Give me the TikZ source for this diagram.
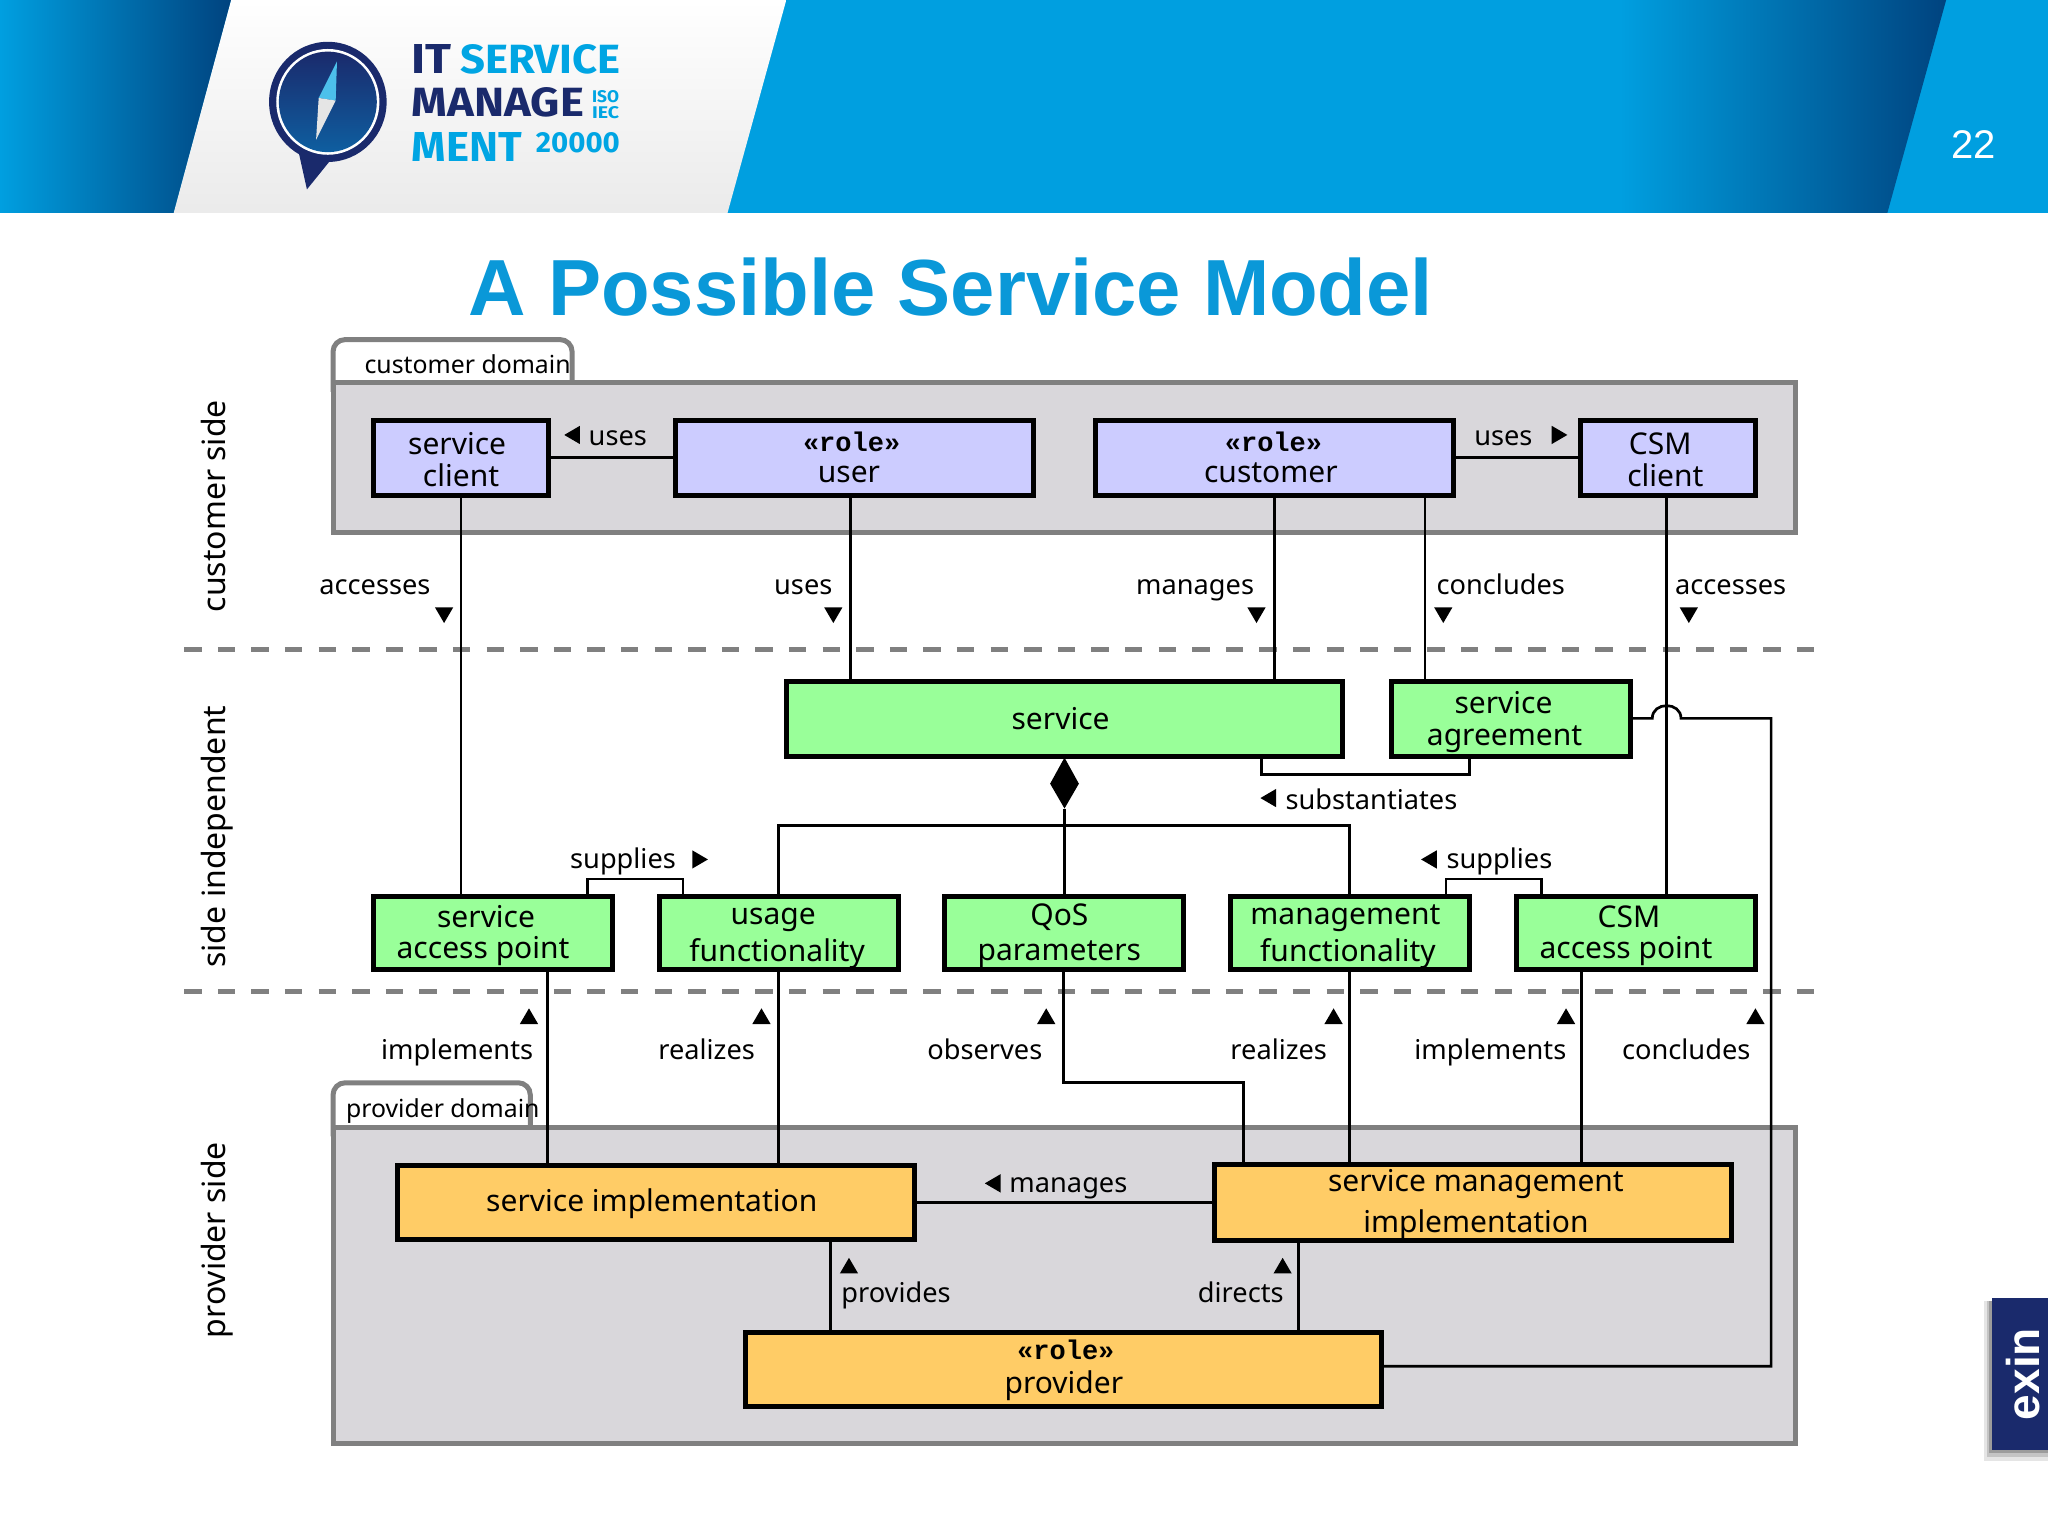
\documentclass[tikz,border=0pt]{standalone}
\usepackage{fontspec}
\usepackage{graphicx}
\setmainfont{Noto Sans}
\newfontfamily\arialf{Liberation Sans}
\newfontfamily\rolef{Liberation Mono}
\newfontfamily\logof{Fira Sans}
\definecolor{hdrblue}{HTML}{009FE0}
\definecolor{hdrdark}{HTML}{00437F}
\definecolor{titleblue}{HTML}{0A98D8}
\definecolor{domgrey}{HTML}{D9D7DB}
\definecolor{edgegrey}{HTML}{808080}
\definecolor{roleblue}{HTML}{CCCCFF}
\definecolor{sidegreen}{HTML}{99FF99}
\definecolor{provorange}{HTML}{FFCC66}
\definecolor{navy}{HTML}{1A2A6C}
\definecolor{logoblue}{HTML}{00A5E3}
\newcommand\bodyf{\fontsize{15}{15.7}\selectfont}
\newcommand\sft[1]{\hspace*{#1pt}}
\newcommand\stra{\rule[-1.6pt]{0pt}{15.7pt}}
\newcommand\strb{\rule[-2.5pt]{0pt}{15.7pt}}
\newcommand\strc{\rule[-3.2pt]{0pt}{15.7pt}}
\newcommand\strd{\rule[-2.2pt]{0pt}{15.7pt}}
\newcommand\stre{\rule[-4.5pt]{0pt}{15.7pt}}
\newcommand\rolet{{\rolef\bfseries\fontsize{13.5}{14}\selectfont «role»}}
\tikzset{
  x=0.65306pt,y=-0.65306pt,
  lbl/.style={inner sep=0pt,outer sep=0pt,font=\fontsize{13.6}{15}\selectfont,text=black,text height=10pt,text depth=3pt,yshift=-1pt},
  domlbl/.style={lbl,font=\fontsize{12.4}{14}\selectfont,text height=9pt,text depth=3pt,yshift=-1pt},
  sidelbl/.style={lbl,rotate=90,font=\fontsize{16}{18}\selectfont,text height=12pt,text depth=3.5pt,yshift=0.4pt},
  diag/.style={draw=black,line width=2.5pt,inner sep=0pt,outer sep=0pt,align=center,font=\bodyf,text=black},
  bluebox/.style={diag,fill=roleblue},
  greenbox/.style={diag,fill=sidegreen},
  orangebox/.style={diag,fill=provorange},
  dombox/.style={draw=edgegrey,fill=domgrey,line width=2.5pt,inner sep=0pt,outer sep=0pt},
  conn/.style={draw=black,line width=1.35pt},
  sepline/.style={draw=edgegrey,line width=2.35pt,dash pattern=on 8.7pt off 8.1pt},
  tabline/.style={draw=edgegrey,fill=white,line width=2.5pt,rounded corners=6pt},
}
% a rectangular node given by its corners: style, name, x1, y1, x2, y2, text
\newcommand\rectnode[7]{\node[#1,minimum width={(#5-#3)*0.65306pt},minimum height={(#6-#4)*0.65306pt}] (#2) at ({(#3+#5)/2},{(#4+#6)/2}) {#7};}
\newcommand\arrD[2]{\fill[black] ({#1-7},{#2-6}) -- ({#1+7},{#2-6}) -- (#1,{#2+6}) -- cycle;}
\newcommand\arrU[2]{\fill[black] ({#1-7},{#2+6}) -- ({#1+7},{#2+6}) -- (#1,{#2-6}) -- cycle;}
\newcommand\arrL[2]{\fill[black] ({#1+6},{#2-7}) -- ({#1+6},{#2+7}) -- ({#1-6},#2) -- cycle;}
\newcommand\arrR[2]{\fill[black] ({#1-6},{#2-7}) -- ({#1-6},{#2+7}) -- ({#1+6},#2) -- cycle;}
\begin{document}
\begin{tikzpicture}
\useasboundingbox (0,0) rectangle (1568,1176);
\fill[white] (0,0) rectangle (1568,1176);
% header
\fill[hdrblue] (0,0) rectangle (1568,163);
\shade[left color=hdrblue,middle color=hdrblue!72!hdrdark,right color=hdrdark] (0,0) -- (177,0) -- (133,163) -- (0,163) -- cycle;
\shade[left color=hdrblue,middle color=hdrblue!55!hdrdark,right color=hdrdark] (1240,0) -- (1490,0) -- (1445,163) -- (1240,163) -- cycle;
\shade[top color=white,bottom color=white!92!black] (177,0) -- (602,0) -- (557,163) -- (133,163) -- cycle;
% logo
\fill[navy] (229,118) -- (235,145) -- (256,119) -- cycle;
\fill[navy] (251,78) ellipse [x radius=45,y radius=46];
\fill[white] (251,78) ellipse [x radius=39.5,y radius=40.5];
\shade[top color=navy,bottom color=hdrblue!45!navy] (251,78) ellipse [x radius=37.5,y radius=38.5];
\fill[logoblue!70!white] (258,47) -- (244,75) -- (257,77) -- cycle;
\fill[white!90!black] (244,75) -- (257,77) -- (242,107) -- cycle;
\node[inner sep=0pt,anchor=north west,text=navy] (lgi) at (315,34) {\resizebox{20pt}{14.5pt}{\logof\bfseries IT}};
\node[inner sep=0pt,anchor=north west,text=logoblue] (lgs) at (352,34) {\resizebox{80pt}{14.5pt}{\logof\bfseries SERVICE}};
\node[inner sep=0pt,anchor=north west,text=navy] (lgm) at (315,67) {\resizebox{86pt}{14.5pt}{\logof\bfseries MANAGE}};
\node[inner sep=0pt,anchor=north west,text=logoblue] (lgt) at (315,101) {\resizebox{55pt}{14.5pt}{\logof\bfseries MENT}};
\node[inner sep=0pt,anchor=north west,text=logoblue] (lgiso) at (453,69) {\resizebox{13.5pt}{6pt}{\logof\bfseries ISO}};
\node[inner sep=0pt,anchor=north west,text=logoblue] (lgiec) at (453,81) {\resizebox{13.5pt}{6pt}{\logof\bfseries IEC}};
\node[inner sep=0pt,anchor=north west,text=logoblue] (lgn) at (410,101) {\resizebox{42pt}{10pt}{\logof\bfseries 20000}};
\node[text=white,inner sep=0pt,font=\arialf\fontsize{20}{22}\selectfont] (pageno) at (1511,111) {22};
% exin tab
\foreach \g/\o in {6/0.1,4/0.14,2/0.2}{\fill[black,opacity=\o] ({1525-\g},996) rectangle (1568,{1110+1.4*\g});}
\fill[navy] (1525,994) rectangle (1568,1110);
\node[rotate=90,text=white,inner sep=0pt,font=\arialf\bfseries\fontsize{23}{26}\selectfont] (exin) at (1549,1052) {exin};
% title
\node[text=titleblue,inner sep=0pt,font=\arialf\bfseries\fontsize{39.8}{46}\selectfont] (title) at (728,220) {A Possible Service Model};
% domains
\draw[tabline] (255,300) -- (255,260) -- (438,260) -- (438,300);
\draw[tabline] (255,870) -- (255,829) -- (406,829) -- (406,870);
\rectnode{dombox}{cd}{255}{293}{1375}{408}{}
\rectnode{dombox}{pd}{255}{863}{1375}{1105}{}
\node[domlbl] (cdl) at (358,278) {customer domain};
\node[domlbl] (pdl) at (339,848) {provider domain};
% separators
\coordinate (s1a) at (141,497); \coordinate (s1b) at (1389,497);
\coordinate (s2a) at (141,759); \coordinate (s2b) at (1389,759);
\draw[sepline] (s1a) -- (s1b);
\draw[sepline] (s2a) -- (s2b);
% side labels
\node[sidelbl] (cs) at (166.5,386) {customer side};
\node[sidelbl] (si) at (166.5,639) {side independent};
\node[sidelbl] (ps) at (166.5,948) {provider side};
% boxes
\rectnode{bluebox}{sc}{286}{322}{420}{379}{\sft{-3.9}\stra service\\\stra client}
\rectnode{bluebox}{usr}{517}{322}{791}{379}{\sft{-2.6}\strc\rolet\\\sft{-5.2}\strc user}
\rectnode{bluebox}{cust}{839}{322}{1113}{379}{\sft{-1.3}\strc\rolet\\\sft{-3.9}\strc customer}
\rectnode{bluebox}{csmc}{1210}{322}{1344}{379}{\sft{-7.8}\stra CSM\\\sft{-2.6}\stra client}
\rectnode{greenbox}{svc}{602}{522}{1028}{579}{\sft{-3.9}\strb service}
\rectnode{greenbox}{sa}{1065}{522}{1248}{579}{\sft{-7}\stra service\\\sft{-6}\stra agreement}
\rectnode{greenbox}{sap}{286}{686}{469}{742}{\sft{-7}\stra service\\\sft{-10}\stra access point}
\rectnode{greenbox}{uf}{505}{686}{688}{742}{\sft{-5.9}\stra usage\\\sft{-2}\stra functionality}
\rectnode{greenbox}{qos}{723}{686}{906}{742}{\sft{-4.5}\stra QoS\\\sft{-4.5}\stra parameters}
\rectnode{greenbox}{mf}{942}{686}{1125}{742}{\sft{-4.5}\stra management\\\sft{-2}\stra functionality}
\rectnode{greenbox}{cap}{1161}{686}{1344}{742}{\sft{-7}\stra CSM\\\sft{-10}\stra access point}
\rectnode{orangebox}{si1}{304}{892}{700}{949}{\sft{-3.9}\strb service implementation}
\rectnode{orangebox}{smi}{930}{892}{1326}{949}{\sft{2.6}\strd service management\\[2.6pt]\sft{2.6}\strd implementation}
\rectnode{orangebox}{prov}{571}{1020}{1058}{1077}{\sft{2}\stre\rolet\\\stre provider}
% diamond
\coordinate (dtop) at (815,580);
\coordinate (dbot) at (815,619);
% connectors
\draw[conn] (sc.east) -- (usr.west);
\draw[conn] (cust.east) -- (csmc.west);
\draw[conn] (353,0 |- sc.south) -- (353,0 |- sap.north);
\draw[conn] (651,0 |- usr.south) -- (651,0 |- svc.north);
\draw[conn] (976,0 |- cust.south) -- (976,0 |- svc.north);
\draw[conn] (1091,0 |- cust.south) -- (1091,0 |- sa.north);
\draw[conn] (1276,0 |- csmc.south) -- (1276,0 |- cap.north);
\draw[conn] (966,0 |- svc.south) -- (966,593) -- (1125,593) -- (1125,0 |- sa.south);
\draw[conn] (dbot) -- (815,0 |- qos.north);
\draw[conn] (596,0 |- uf.north) -- (596,632) -- (1033,632) -- (1033,0 |- mf.north);
\draw[conn] (450,0 |- sap.north) -- (450,673) -- (523,673) -- (523,0 |- uf.north);
\draw[conn] (1107,0 |- mf.north) -- (1107,673) -- (1180,673) -- (1180,0 |- cap.north);
\draw[conn] (419,0 |- sap.south) -- (419,0 |- si1.north);
\draw[conn] (596,0 |- uf.south) -- (596,0 |- si1.north);
\draw[conn] (814,0 |- qos.south) -- (814,829) -- (952,829) -- (952,0 |- smi.north);
\draw[conn] (1033,0 |- mf.south) -- (1033,0 |- smi.north);
\draw[conn] (1211,0 |- cap.south) -- (1211,0 |- smi.north);
\draw[conn] (si1.east) -- (si1.east -| smi.west);
\draw[conn] (636,0 |- si1.south) -- (636,0 |- prov.north);
\draw[conn] (994,0 |- smi.south) -- (994,0 |- prov.north);
\draw[conn] (prov.east |- 0,1046) -- (1356,1046) -- (1356,550) -- (1287,550) .. controls (1287,537) and (1265,537) .. (1265,550) -- (sa.east |- 0,550);
\fill[black] (dtop) -- (826,600) -- (dbot) -- (804,600) -- cycle;
% markers
\arrL{438}{333} \arrR{1194}{333}
\arrD{340}{471} \arrD{638}{471} \arrD{962}{471} \arrD{1105}{471} \arrD{1293}{471}
\arrL{971}{611} \arrR{536}{658} \arrL{1094}{658}
\arrU{405}{778} \arrU{583}{778} \arrU{801}{778} \arrU{1021}{778} \arrU{1199}{778} \arrU{1344}{778}
\arrL{760}{906} \arrU{650}{969} \arrU{982}{969}
% labels
\node[lbl] (l1) at (473,334) {uses};
\node[lbl] (l2) at (1151,334) {uses};
\node[lbl] (l3) at (287,448) {accesses};
\node[lbl] (l4) at (615,448) {uses};
\node[lbl] (l5) at (915,448) {manages};
\node[lbl] (l6) at (1149,448) {concludes};
\node[lbl] (l7) at (1325,448) {accesses};
\node[lbl] (l8) at (1050,613) {substantiates};
\node[lbl] (l9) at (477,658) {supplies};
\node[lbl] (l10) at (1148,658) {supplies};
\node[lbl] (l11) at (350,804) {implements};
\node[lbl] (l12) at (541,804) {realizes};
\node[lbl] (l13) at (754,804) {observes};
\node[lbl] (l14) at (979,804) {realizes};
\node[lbl] (l15) at (1141,804) {implements};
\node[lbl] (l16) at (1291,804) {concludes};
\node[lbl] (l17) at (818,906) {manages};
\node[lbl] (l18) at (686,990) {provides};
\node[lbl] (l19) at (950,990) {directs};
\end{tikzpicture}
\end{document}
